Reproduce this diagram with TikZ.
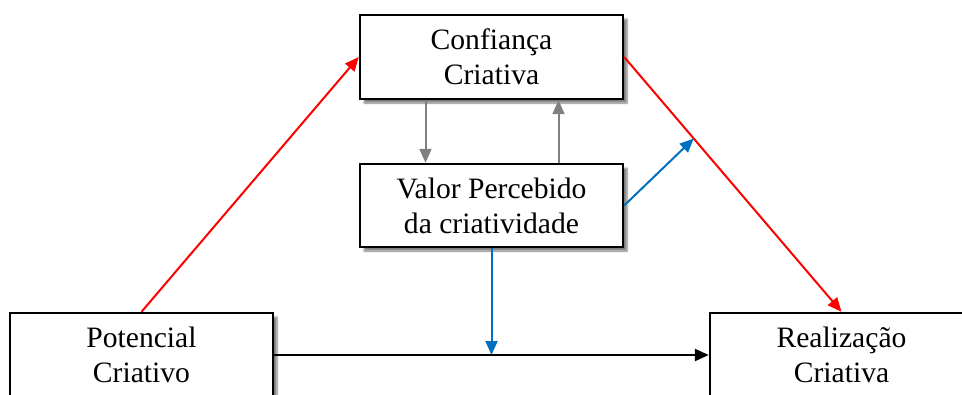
\documentclass[tikz,border=0pt]{standalone}
\usepackage{fontspec}
\setmainfont{Liberation Serif}
\usetikzlibrary{arrows.meta,calc,shadows.blur}
\definecolor{myred}{RGB}{255,0,0}
\definecolor{myblue}{RGB}{0,112,192}
\definecolor{mygray}{RGB}{128,128,128}
\tikzset{
  boxnode/.style={draw=black, line width=2.4pt, fill=white, minimum width=263pt, minimum height=84pt,
    align=center, inner sep=0pt, font=\fontsize{29.6}{35}\selectfont,
    blur shadow={shadow xshift=4pt, shadow yshift=-4pt, shadow blur steps=6, shadow opacity=50}},
  tipA/.style={-{Triangle[length=14pt,width=12pt]}},
  redarrow/.style={tipA, draw=myred, line width=2pt},
  bluearrow/.style={tipA, draw=myblue, line width=2pt},
  grayarrow/.style={tipA, draw=mygray, line width=2pt},
  blackarrow/.style={tipA, draw=black, line width=2.4pt},
}
\begin{document}
\begin{tikzpicture}[x=1pt,y=-1pt]
\useasboundingbox (0,0) rectangle (962,394);
\clip (0,0) rectangle (962,394);
\node[boxnode] (conf) at (491.5,57) {Confiança\\Criativa};
\node[boxnode, minimum height=83pt] (val) at (491.5,205.5) {Valor Percebido\\da criatividade};
\node[boxnode] (pot) at (141.5,355) {Potencial\\Criativo};
\node[boxnode] (real) at (841.5,355) {Realização\\Criativa};
\coordinate (mid) at ($(conf.east)!0.32!(real.north)$);
\coordinate (bj) at (val.south |- pot.east);
\draw[redarrow] (pot.north) -- (conf.west);
\draw[redarrow] (conf.east) -- (real.north);
\draw[blackarrow] (pot.east) -- (real.west);
\draw[bluearrow] (val.east) -- (mid);
\draw[bluearrow] (val.south) -- (bj);
\draw[grayarrow] ([xshift=-66pt]conf.south) -- ([xshift=-66pt]val.north);
\draw[grayarrow] ([xshift=67pt]val.north) -- ([xshift=67pt]conf.south);
\end{tikzpicture}
\end{document}
